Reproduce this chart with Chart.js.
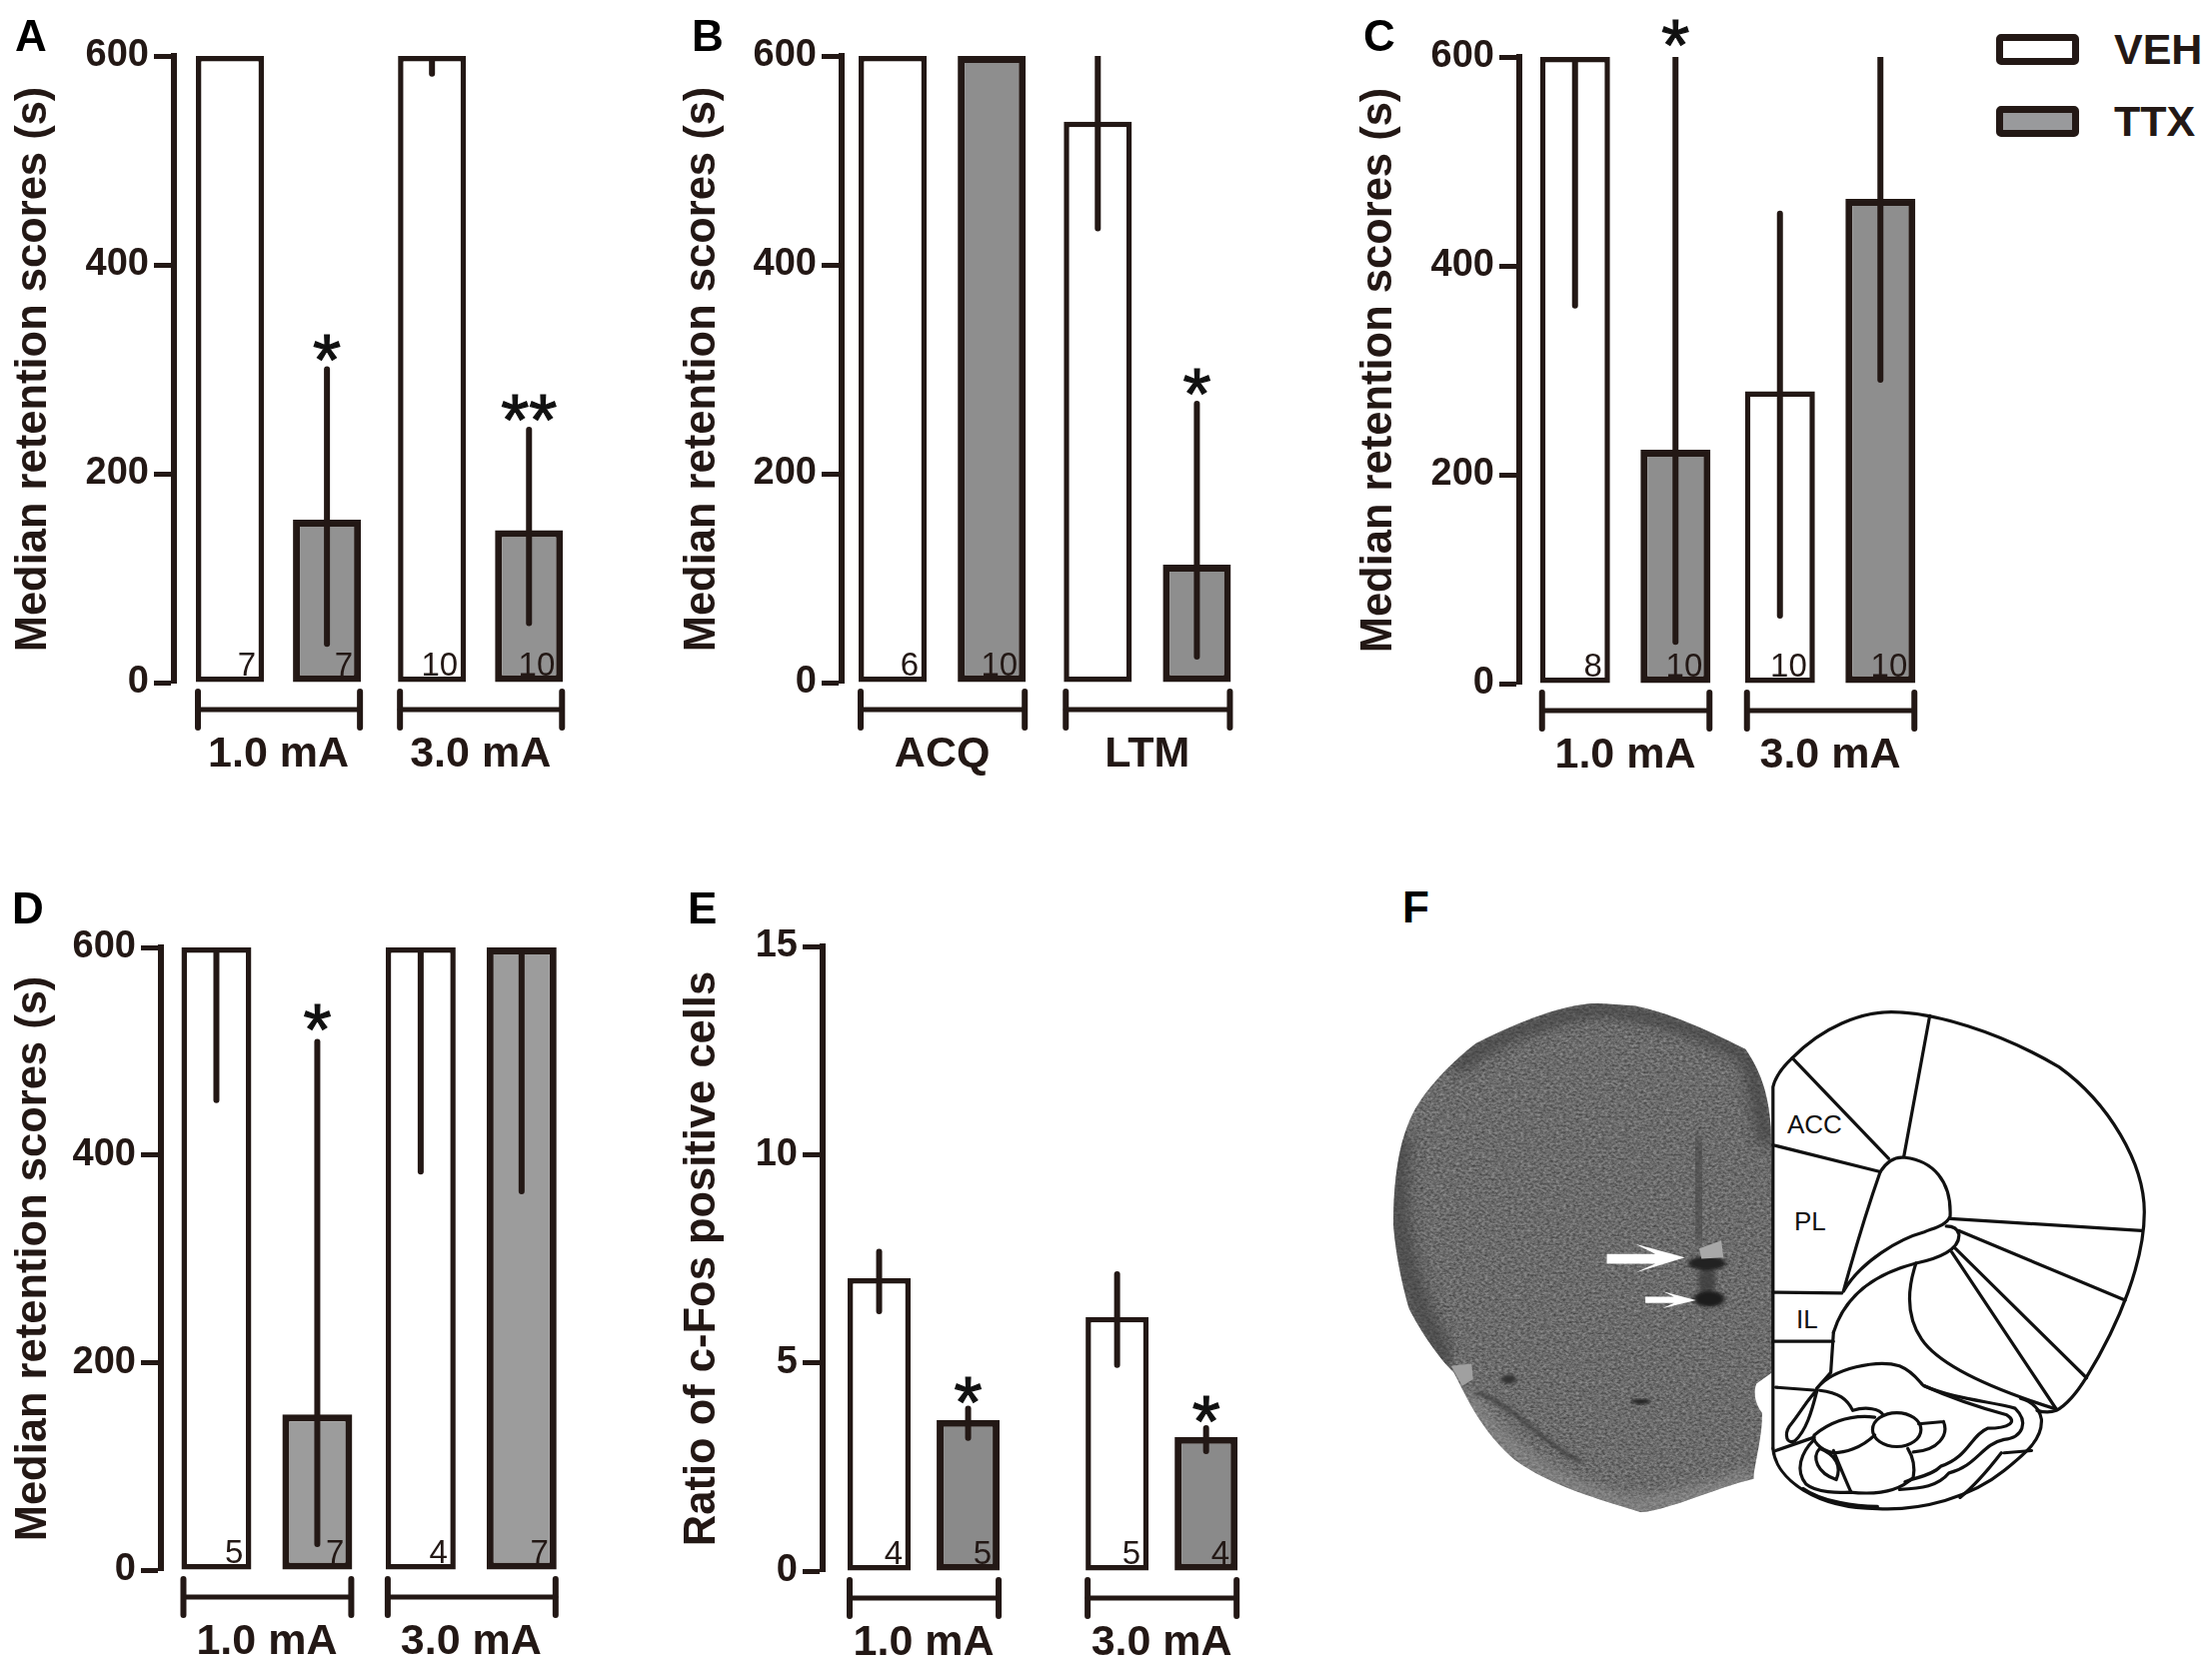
<!DOCTYPE html>
<html>
<head>
<meta charset="utf-8">
<title>Median retention scores</title>
<script src="https://cdn.jsdelivr.net/npm/chart.js@4"></script>
<style>
	html, body { margin: 0; padding: 0; background: #fff; }
	body { position: relative; width: 2213px; height: 1670px; overflow: hidden; font-family: "Liberation Sans", Arial, sans-serif; }
	canvas { position: absolute; }
	.tag { position: absolute; font-size: 44px; line-height: 1; font-weight: bold; color: #000; }
	.region { position: absolute; font-size: 26px; line-height: 1; color: #111; }
	.key-box { position: absolute; left: 1997px; width: 83px; height: 31px; box-sizing: border-box; border: 7px solid #231815; border-radius: 5px; }
	.key-text { position: absolute; left: 2115px; font-size: 43px; line-height: 1; font-weight: bold; color: #231815; }
	#slice { position: absolute; left: 1350px; top: 860px; width: 863px; height: 700px; }
</style>
</head>
<body>
<script>
var seriesNames = ['VEH', 'TTX'];
var retentionTicks = [0, 200, 400, 600];
var ratioTicks = [0, 5, 10, 15];

// panel A
var groupsA = ['1.0 mA', '3.0 mA'];
var vehA = [600, 600];
var ttxA = [156, 146];
var vehErrA = [null, [583, 600]];
var ttxErrA = [[37, 300], [57, 242]];
var vehNA = ['7', '10'];
var ttxNA = ['7', '10'];
var ttxStarA = ['*', '**'];

// panel B
var groupsB = ['ACQ', 'LTM'];
var vehB = [600, 537];
var ttxB = [600, 113];
var vehErrB = [null, [435, 600]];
var ttxErrB = [null, [25, 267]];
var vehNB = ['6', ''];
var ttxNB = ['10', ''];
var ttxStarB = ['', '*'];

// panel C
var groupsC = ['1.0 mA', '3.0 mA'];
var vehC = [600, 280];
var ttxC = [224, 464];
var vehErrC = [[362, 600], [65, 450]];
var ttxErrC = [[40, 600], [291, 600]];
var vehNC = ['8', '10'];
var ttxNC = ['10', '10'];
var ttxStarC = ['*', ''];

// panel D
var groupsD = ['1.0 mA', '3.0 mA'];
var vehD = [600, 600];
var ttxD = [150, 600];
var vehErrD = [[453, 600], [384, 600]];
var ttxErrD = [[25, 509], [365, 600]];
var vehND = ['5', '4'];
var ttxND = ['7', '7'];
var ttxStarD = ['*', ''];

// panel E
var groupsE = ['1.0 mA', '3.0 mA'];
var vehE = [7.03, 6.1];
var ttxE = [3.63, 3.22];
var vehErrE = [[6.24, 7.67], [4.95, 7.13]];
var ttxErrE = [[3.2, 3.9], [2.88, 3.43]];
var vehNE = ['4', '5'];
var ttxNE = ['5', '4'];
var ttxStarE = ['*', '*'];

var INK = '#231815';
var FONT = '"Liberation Sans", Arial, sans-serif';

// whiskers, the n inside each bar, the stars, and the bracket under each group
var marksPlugin = {
	id: 'marks',
	afterDatasetsDraw: function(chart, args, opts){
		var ctx = chart.ctx;
		var yScale = chart.scales.y;
		var area = chart.chartArea;
		var base = yScale.getPixelForValue(0);
		ctx.save();
		chart.data.datasets.forEach(function(ds, d){
			var bars = chart.getDatasetMeta(d).data;
			bars.forEach(function(bar, i){
				var half = bar.width / 2;
				var err = ds.err[i];
				var topY = bar.y;
				if(err){
					var hi = yScale.getPixelForValue(err[1]);
					topY = hi;
					ctx.save();
					ctx.beginPath();
					ctx.rect(area.left, area.top, area.width, area.height);
					ctx.clip();
					ctx.strokeStyle = INK;
					ctx.lineWidth = opts.whisker;
					ctx.lineCap = 'round';
					ctx.beginPath();
					ctx.moveTo(bar.x, hi);
					ctx.lineTo(bar.x, yScale.getPixelForValue(err[0]));
					ctx.stroke();
					ctx.restore();
				}
				if(ds.n[i]){
					ctx.fillStyle = INK;
					ctx.font = '33px ' + FONT;
					ctx.textAlign = 'right';
					ctx.textBaseline = 'alphabetic';
					ctx.fillText(ds.n[i], bar.x + half - 8, base - 7);
				}
				if(ds.star && ds.star[i]){
					ctx.fillStyle = '#111';
					ctx.strokeStyle = '#111';
					ctx.lineWidth = 1.2;
					ctx.font = '72px ' + FONT;
					ctx.textAlign = 'center';
					ctx.textBaseline = 'alphabetic';
					ctx.fillText(ds.star[i], bar.x, topY - opts.starGap + 43);
					ctx.strokeText(ds.star[i], bar.x, topY - opts.starGap + 43);
				}
			});
		});
		// group brackets
		var first = chart.getDatasetMeta(0).data;
		var second = chart.getDatasetMeta(1).data;
		ctx.strokeStyle = INK;
		ctx.lineCap = 'round';
		first.forEach(function(bar, i){
			var x0 = bar.x - bar.width / 2 + 2;
			var x1 = second[i].x + second[i].width / 2 - 1;
			var y = base + 27;
			ctx.lineWidth = 5;
			ctx.beginPath();
			ctx.moveTo(x0, y);
			ctx.lineTo(x1, y);
			ctx.stroke();
			ctx.lineWidth = 6;
			ctx.beginPath();
			ctx.moveTo(x0, y - 18);
			ctx.lineTo(x0, y + 18);
			ctx.moveTo(x1, y - 18);
			ctx.lineTo(x1, y + 18);
			ctx.stroke();
		});
		ctx.restore();
	}
};

function points(values){
	return values.map(function(v, i){
		return {x: i + 1, y: v};
	});
}

function makePanel(p){
	var canvas = document.createElement('canvas');
	var yWidth = p.axisX - (p.titleX - 26);
	var xHeight = 100;
	var pad = 45;
	var span = 2.6 - (1 - (p.groupX - p.axisX) / p.step);
	canvas.width = yWidth + Math.round(p.step * span);
	canvas.height = p.y0 - p.yTop + pad + xHeight;
	canvas.style.left = (p.titleX - 26) + 'px';
	canvas.style.top = (p.yTop - pad) + 'px';
	document.body.appendChild(canvas);
	new Chart(canvas, {
		type: 'bar',
		data: {
			datasets: [
				{label: seriesNames[0], data: points(p.veh), err: p.vehErr, n: p.vehN, backgroundColor: '#fff', borderColor: INK, borderWidth: p.border, borderSkipped: false},
				{label: seriesNames[1], data: points(p.ttx), err: p.ttxErr, n: p.ttxN, star: p.star, backgroundColor: p.gray, borderColor: INK, borderWidth: p.border + 1.5, borderSkipped: false}
			]
		},
		options: {
			responsive: false,
			animation: false,
			devicePixelRatio: 1,
			layout: {padding: {top: pad}},
			categoryPercentage: p.pitch * 2 / p.step,
			barPercentage: p.barW / p.pitch,
			plugins: {
				legend: {display: false},
				tooltip: {enabled: false},
				marks: {whisker: 6, starGap: p.starGap}
			},
			scales: {
				x: {
					type: 'linear',
					offset: false,
					min: 1 - (p.groupX - p.axisX) / p.step,
					max: 2.6,
					grid: {display: false},
					border: {display: false},
					afterBuildTicks: function(scale){
						scale.ticks = [{value: 1}, {value: 2}];
					},
					afterFit: function(scale){
						scale.height = xHeight;
					},
					ticks: {
						autoSkip: false,
						maxRotation: 0,
						padding: 38,
						color: INK,
						font: {family: FONT, size: 43, weight: 'bold'},
						callback: function(v){
							return p.groups[v - 1];
						}
					}
				},
				y: {
					min: p.ticks[0],
					max: p.ticks[p.ticks.length - 1],
					afterBuildTicks: function(scale){
						scale.ticks = p.ticks.map(function(v){
							return {value: v};
						});
					},
					afterFit: function(scale){
						scale.width = yWidth;
					},
					grid: {drawOnChartArea: false, color: INK, tickColor: INK, tickWidth: 5, tickLength: 20},
					border: {color: INK, width: 6},
					ticks: {
						padding: 5,
						color: INK,
						font: {family: FONT, size: 38, weight: 'bold'}
					},
					title: {
						display: true,
						text: p.title,
						color: INK,
						padding: 0,
						font: {family: FONT, size: 43.5, weight: 'bold'}
					}
				}
			}
		},
		plugins: [marksPlugin]
	});
}

makePanel({titleX: 34, axisX: 174, yTop: 56, y0: 683, groupX: 278.5, step: 202, pitch: 97, barW: 68, border: 5.5, gray: '#929292', starGap: 28,
	groups: groupsA, veh: vehA, ttx: ttxA, vehErr: vehErrA, ttxErr: ttxErrA, vehN: vehNA, ttxN: ttxNA, star: ttxStarA,
	ticks: retentionTicks, title: 'Median retention scores (s)'});
makePanel({titleX: 703, axisX: 842, yTop: 56, y0: 683, groupX: 942.5, step: 205, pitch: 99, barW: 68, border: 5.5, gray: '#8e8e8e', starGap: 28,
	groups: groupsB, veh: vehB, ttx: ttxB, vehErr: vehErrB, ttxErr: ttxErrB, vehN: vehNB, ttxN: ttxNB, star: ttxStarB,
	ticks: retentionTicks, title: 'Median retention scores (s)'});
makePanel({titleX: 1380, axisX: 1520, yTop: 57, y0: 684, groupX: 1626, step: 205, pitch: 100.5, barW: 70, border: 5.5, gray: '#8e8e8e', starGap: 30,
	groups: groupsC, veh: vehC, ttx: ttxC, vehErr: vehErrC, ttxErr: ttxErrC, vehN: vehNC, ttxN: ttxNC, star: ttxStarC,
	ticks: retentionTicks, title: 'Median retention scores (s)'});
makePanel({titleX: 34, axisX: 161, yTop: 948, y0: 1571, groupX: 267, step: 204.5, pitch: 101, barW: 70, border: 5.5, gray: '#9c9c9c', starGap: 30,
	groups: groupsD, veh: vehD, ttx: ttxD, vehErr: vehErrD, ttxErr: ttxErrD, vehN: vehND, ttxN: ttxND, star: ttxStarD,
	ticks: retentionTicks, title: 'Median retention scores (s)'});
makePanel({titleX: 703, axisX: 823, yTop: 947, y0: 1572, groupX: 924, step: 238, pitch: 89, barW: 63, border: 5.5, gray: '#8a8a8a', starGap: 25,
	groups: groupsE, veh: vehE, ttx: ttxE, vehErr: vehErrE, ttxErr: ttxErrE, vehN: vehNE, ttxN: ttxNE, star: ttxStarE,
	ticks: ratioTicks, title: 'Ratio of c-Fos positive cells'});

function addText(cls, text, left, top){
	var el = document.createElement('div');
	el.className = cls;
	el.textContent = text;
	el.style.left = left + 'px';
	el.style.top = top + 'px';
	document.body.appendChild(el);
}

addText('tag', 'A', 15, 14);
addText('tag', 'B', 692, 14);
addText('tag', 'C', 1364, 14);
addText('tag', 'D', 12, 887);
addText('tag', 'E', 688, 887);
addText('tag', 'F', 1403, 886);

// legend
var keyRows = [34, 106];
var keyFills = ['#fff', '#999a9c'];
seriesNames.forEach(function(name, i){
	var box = document.createElement('div');
	box.className = 'key-box';
	box.style.top = keyRows[i] + 'px';
	box.style.background = keyFills[i];
	document.body.appendChild(box);
	var label = document.createElement('div');
	label.className = 'key-text';
	label.textContent = name;
	label.style.top = (keyRows[i] - 6) + 'px';
	document.body.appendChild(label);
});
</script>

<!-- panel F: the section photo and the atlas plate, coordinates in a stretched 1568 box -->
<svg id="slice" viewBox="0 0 1568 1568" preserveAspectRatio="none" xmlns="http://www.w3.org/2000/svg">
	<defs>
		<filter id="grain" x="0" y="0" width="100%" height="100%" color-interpolation-filters="sRGB">
			<feTurbulence type="fractalNoise" baseFrequency="0.17 0.2" numOctaves="4" seed="7"/>
			<feColorMatrix type="matrix" values="0.42 0 0 0 0.21  0.42 0 0 0 0.21  0.42 0 0 0 0.21  0 0 0 0 1"/>
		</filter>
		<filter id="soft"><feGaussianBlur stdDeviation="14"/></filter>
		<filter id="soft2"><feGaussianBlur stdDeviation="4"/></filter>
		<clipPath id="sectionClip"><path d="M450 322 C380 325 300 370 230 412 C190 450 140 510 115 570 C90 630 80 720 80 820 C85 900 100 970 108 1005 C130 1060 165 1120 190 1150 C215 1210 240 1280 300 1345 C360 1400 440 1430 530 1463 C590 1455 660 1410 735 1388 C735 1360 752 1290 750 1240 C735 1215 735 1190 740 1175 L768 1150 C772 1000 770 800 766 600 C762 520 745 470 720 425 C670 395 590 345 520 328 Z"/></clipPath>
	</defs>
	<g clip-path="url(#sectionClip)">
		<rect x="60" y="300" width="730" height="1180" filter="url(#grain)"/>
		<path d="M190 470 C260 400 340 360 450 335 C560 345 660 390 730 450 L760 640" fill="none" stroke="#3a3a3a" stroke-width="26" opacity="0.8" filter="url(#soft)"/>
		<path d="M95 620 C75 800 95 950 180 1130" fill="none" stroke="#3c3c3c" stroke-width="36" opacity="0.7" filter="url(#soft)"/>
		<path d="M630 620 L640 860" fill="none" stroke="#444" stroke-width="34" opacity="0.7" filter="url(#soft)"/>
		<path d="M210 1200 C260 1290 340 1400 520 1450 C620 1430 700 1400 735 1380" fill="none" stroke="#a5a5a5" stroke-width="30" opacity="0.5" filter="url(#soft)"/>
		<path d="M230 1195 C300 1220 340 1300 420 1350" fill="none" stroke="#3a3a3a" stroke-width="8" opacity="0.8" filter="url(#soft2)"/>
		<ellipse cx="530" cy="1215" rx="18" ry="6" fill="#222" filter="url(#soft2)"/>
		<ellipse cx="290" cy="1165" rx="14" ry="10" fill="#333" filter="url(#soft2)"/>
		<ellipse cx="650" cy="945" rx="16" ry="34" fill="#3a3a3a" opacity="0.8" filter="url(#soft2)"/>
		<ellipse cx="650" cy="905" rx="34" ry="16" fill="#222" filter="url(#soft2)"/>
		<ellipse cx="654" cy="985" rx="28" ry="18" fill="#1c1c1c" filter="url(#soft2)"/>
		<path d="M636 872 L676 854 L680 892 L640 895 Z" fill="#a8a8a8"/>
		<path d="M185 1135 L222 1130 L225 1165 L205 1180 Z" fill="#a0a0a0"/>
	</g>
	<path d="M468 884 L556 884 L520 862 L610 892 L520 926 L556 906 L468 906 Z" fill="#fff"/>
	<path d="M538 980 L590 980 L570 968 L630 988 L570 1006 L590 994 L538 994 Z" fill="#fff"/>
	<g fill="none" stroke="#111" stroke-width="3.2" stroke-linecap="round" stroke-linejoin="round">
		<path vector-effect="non-scaling-stroke" d="M770 1320 L770 510 Q775 480 805 445 C860 375 930 342 985 342 C1060 342 1180 385 1290 465 C1380 545 1445 680 1445 790 C1445 900 1400 1040 1340 1160 C1320 1200 1300 1225 1285 1235 Q1270 1242 1250 1235"/>
		<path vector-effect="non-scaling-stroke" d="M770 1320 C775 1390 850 1455 960 1455 C1040 1460 1130 1430 1190 1370 C1230 1330 1260 1300 1258 1255 C1255 1230 1240 1215 1220 1208"/>
		<path vector-effect="non-scaling-stroke" d="M805 445 L980 670 M1055 350 L1008 665 M770 640 L965 700 M1092 805 L1440 832 M1108 832 L1410 988 M1100 870 L1340 1162 M1095 880 L1285 1232"/>
		<path vector-effect="non-scaling-stroke" d="M965 700 C975 680 990 665 1010 668 C1060 675 1095 720 1092 800 C1085 820 1065 825 1045 835 C1000 850 930 900 898 968 M965 700 C945 770 920 870 898 968"/>
		<path vector-effect="non-scaling-stroke" d="M880 1060 C900 980 950 930 1030 905 C1070 895 1110 875 1108 840 C1105 825 1095 822 1085 822"/>
		<path vector-effect="non-scaling-stroke" d="M1030 905 C1015 960 1010 1020 1040 1075 C1070 1130 1150 1180 1285 1232"/>
		<path vector-effect="non-scaling-stroke" d="M770 970 L895 972 M770 1080 L880 1080 M880 1060 L875 1150 L850 1185 M775 1183 L850 1190 M775 1325 L845 1295"/>
		<path vector-effect="non-scaling-stroke" d="M850 1185 C880 1140 960 1120 1000 1135 C1030 1150 1040 1180 1045 1180 C1090 1205 1150 1230 1195 1245 C1215 1260 1200 1275 1160 1275 C1130 1290 1125 1340 1075 1360 C1060 1380 1030 1385 1010 1395"/>
		<path vector-effect="non-scaling-stroke" d="M1045 1180 C1100 1210 1170 1215 1210 1230 C1235 1260 1225 1295 1190 1300 C1150 1310 1140 1360 1090 1375 C1070 1405 1040 1410 1000 1412"/>
		<path vector-effect="non-scaling-stroke" d="M1190 1330 L1240 1325 M1185 1330 C1160 1370 1130 1410 1110 1430 M1035 1265 L1080 1260 M1080 1260 C1090 1290 1070 1325 1025 1328"/>
		<ellipse vector-effect="non-scaling-stroke" cx="995" cy="1278" rx="44" ry="38"/>
		<path vector-effect="non-scaling-stroke" d="M850 1190 C840 1240 830 1280 810 1303 C795 1312 790 1290 800 1270 C820 1240 835 1205 850 1190"/>
		<path vector-effect="non-scaling-stroke" d="M855 1190 C890 1195 905 1210 915 1235 C940 1225 965 1232 970 1245 M845 1290 C880 1255 920 1245 955 1250 M955 1290 C930 1320 900 1330 880 1330 C855 1325 840 1300 845 1290"/>
		<path vector-effect="non-scaling-stroke" d="M845 1300 C820 1330 810 1370 830 1400 C850 1420 890 1420 910 1418 C960 1425 1000 1415 1025 1385 C1030 1350 1020 1330 1015 1320"/>
		<path vector-effect="non-scaling-stroke" d="M855 1320 C840 1340 850 1375 885 1390 C895 1360 885 1335 855 1320 M880 1325 C895 1370 905 1400 912 1418 M825 1410 C860 1440 920 1450 960 1450"/>
	</g>
</svg>
<script>
addText('region', 'ACC', 1788, 1112);
addText('region', 'PL', 1795, 1209);
addText('region', 'IL', 1797, 1307);
</script>
</body>
</html>
